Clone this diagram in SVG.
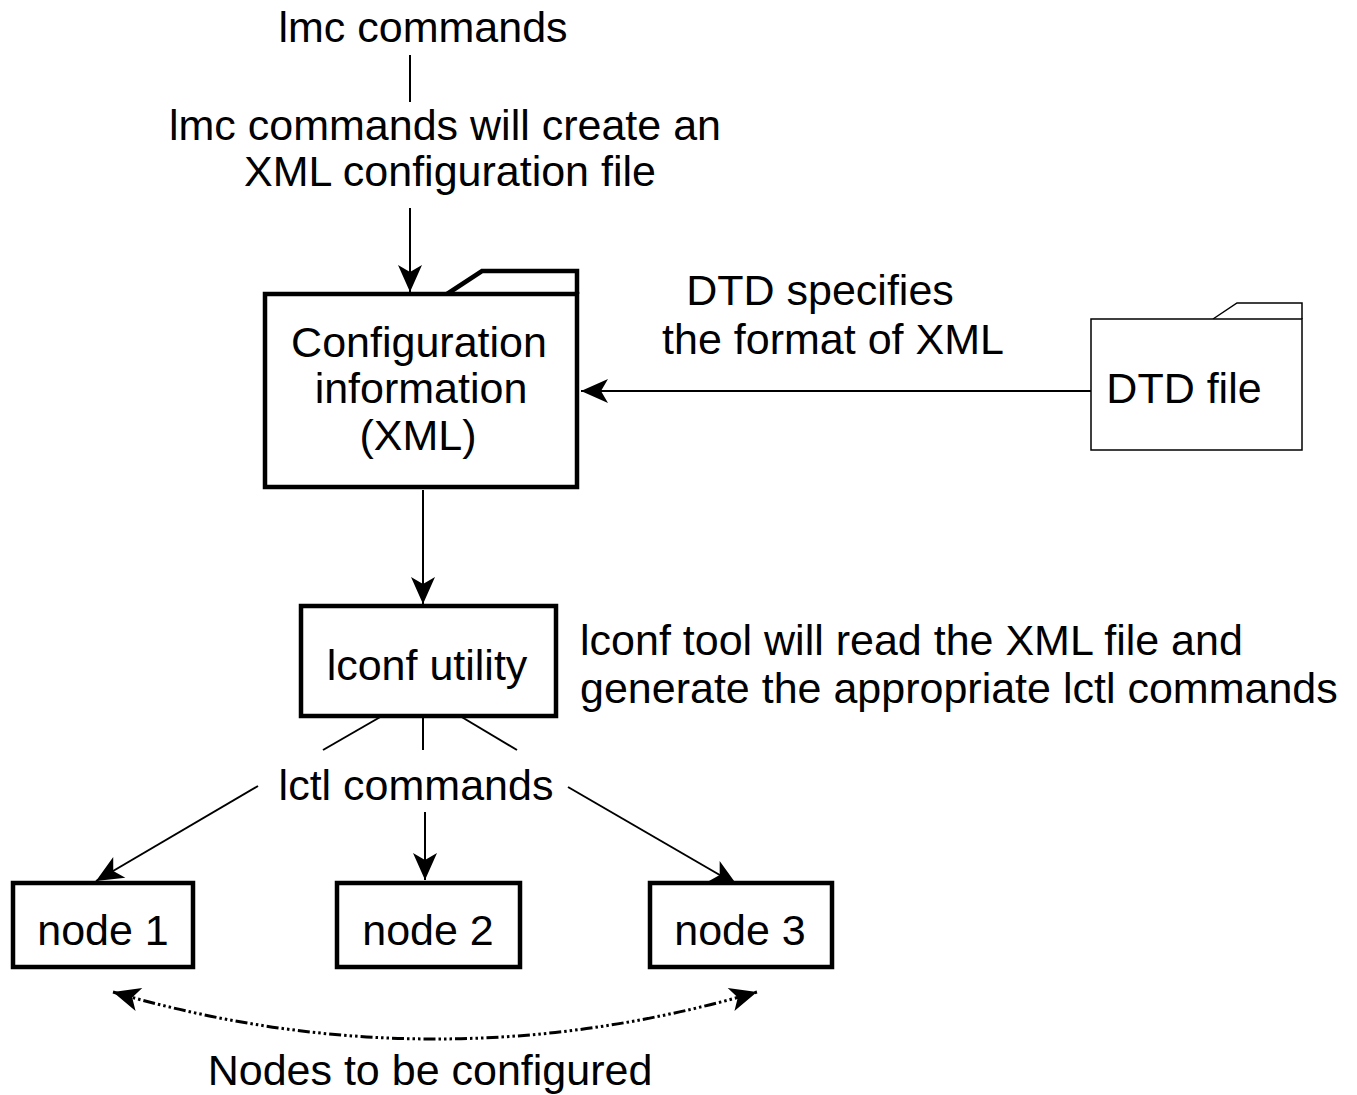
<svg xmlns="http://www.w3.org/2000/svg" width="1357" height="1095" viewBox="0 0 1357 1095">
<style>
text{font-family:"Liberation Sans",Arial,sans-serif;font-size:43px;fill:#000}
.c{text-anchor:middle}
.thick{fill:#fff;stroke:#000;stroke-width:4.5}
.thin{fill:#fff;stroke:#000;stroke-width:1.5}
.ln{stroke:#000;stroke-width:2;fill:none}
.dash{stroke:#000;stroke-width:3;fill:none;stroke-dasharray:12,3,2.5,3,2.5,3,2.5,3}
</style>
<defs>
<marker id="ah" markerUnits="userSpaceOnUse" markerWidth="32" markerHeight="28" viewBox="-29 -14 32 28" refX="0" refY="0" orient="auto-start-reverse">
<path d="M0,0 L-27,-12 L-20,0 L-27,12 Z" fill="#000"/>
</marker>
</defs>
<rect width="1357" height="1095" fill="#fff"/>
<g id="connectors">
<line class="ln" x1="410" y1="55" x2="410" y2="102"/>
<line class="ln" x1="410" y1="208" x2="410" y2="292" marker-end="url(#ah)"/>
<line class="ln" x1="1093" y1="391" x2="581" y2="391" marker-end="url(#ah)"/>
<line class="ln" x1="423" y1="490" x2="423" y2="604" marker-end="url(#ah)"/>
<line class="ln" x1="382" y1="716" x2="323" y2="750"/>
<line class="ln" x1="423" y1="716" x2="423" y2="750"/>
<line class="ln" x1="460" y1="716" x2="517" y2="750"/>
<line class="ln" x1="258" y1="786" x2="96" y2="881" marker-end="url(#ah)"/>
<line class="ln" x1="425" y1="812" x2="425" y2="880" marker-end="url(#ah)"/>
<line class="ln" x1="568" y1="787" x2="737" y2="885" marker-end="url(#ah)"/>
<path class="dash" d="M113,992 Q435,1086 757,992" marker-start="url(#ah)" marker-end="url(#ah)"/>
</g>
<g id="config">
<path class="thick" d="M447,294 L482,271 L577,271 L577,294"/>
<rect class="thick" x="265" y="294" width="312" height="193"/>
<text class="c" x="419" y="357">Configuration</text>
<text class="c" x="421" y="403">information</text>
<text class="c" x="418" y="450">(XML)</text>
</g>
<g id="dtd">
<path class="thin" d="M1213,319 L1237,303 L1302,303 L1302,319"/>
<rect class="thin" x="1091" y="319" width="211" height="131"/>
<text class="c" x="1184" y="403">DTD file</text>
</g>
<g id="lconf">
<rect class="thick" x="301" y="606" width="255" height="110"/>
<text class="c" x="427" y="680">lconf utility</text>
</g>
<g id="node1">
<rect class="thick" x="13" y="883" width="180" height="84"/>
<text class="c" x="103" y="945">node 1</text>
</g>
<g id="node2">
<rect class="thick" x="337" y="883" width="183" height="84"/>
<text class="c" x="428" y="945">node 2</text>
</g>
<g id="node3">
<rect class="thick" x="650" y="883" width="182" height="84"/>
<text class="c" x="740" y="945">node 3</text>
</g>
<g id="labels">
<text class="c" x="423" y="42">lmc commands</text>
<text class="c" x="445" y="140">lmc commands will create an</text>
<text class="c" x="450" y="186">XML configuration file</text>
<text class="c" x="820" y="305">DTD specifies</text>
<text class="c" x="833" y="354">the format of XML</text>
<text x="580" y="655">lconf tool will read the XML file and</text>
<text x="580" y="703">generate the appropriate lctl commands</text>
<text class="c" x="416" y="800">lctl commands</text>
<text class="c" x="430" y="1085">Nodes to be configured</text>
</g>
</svg>
